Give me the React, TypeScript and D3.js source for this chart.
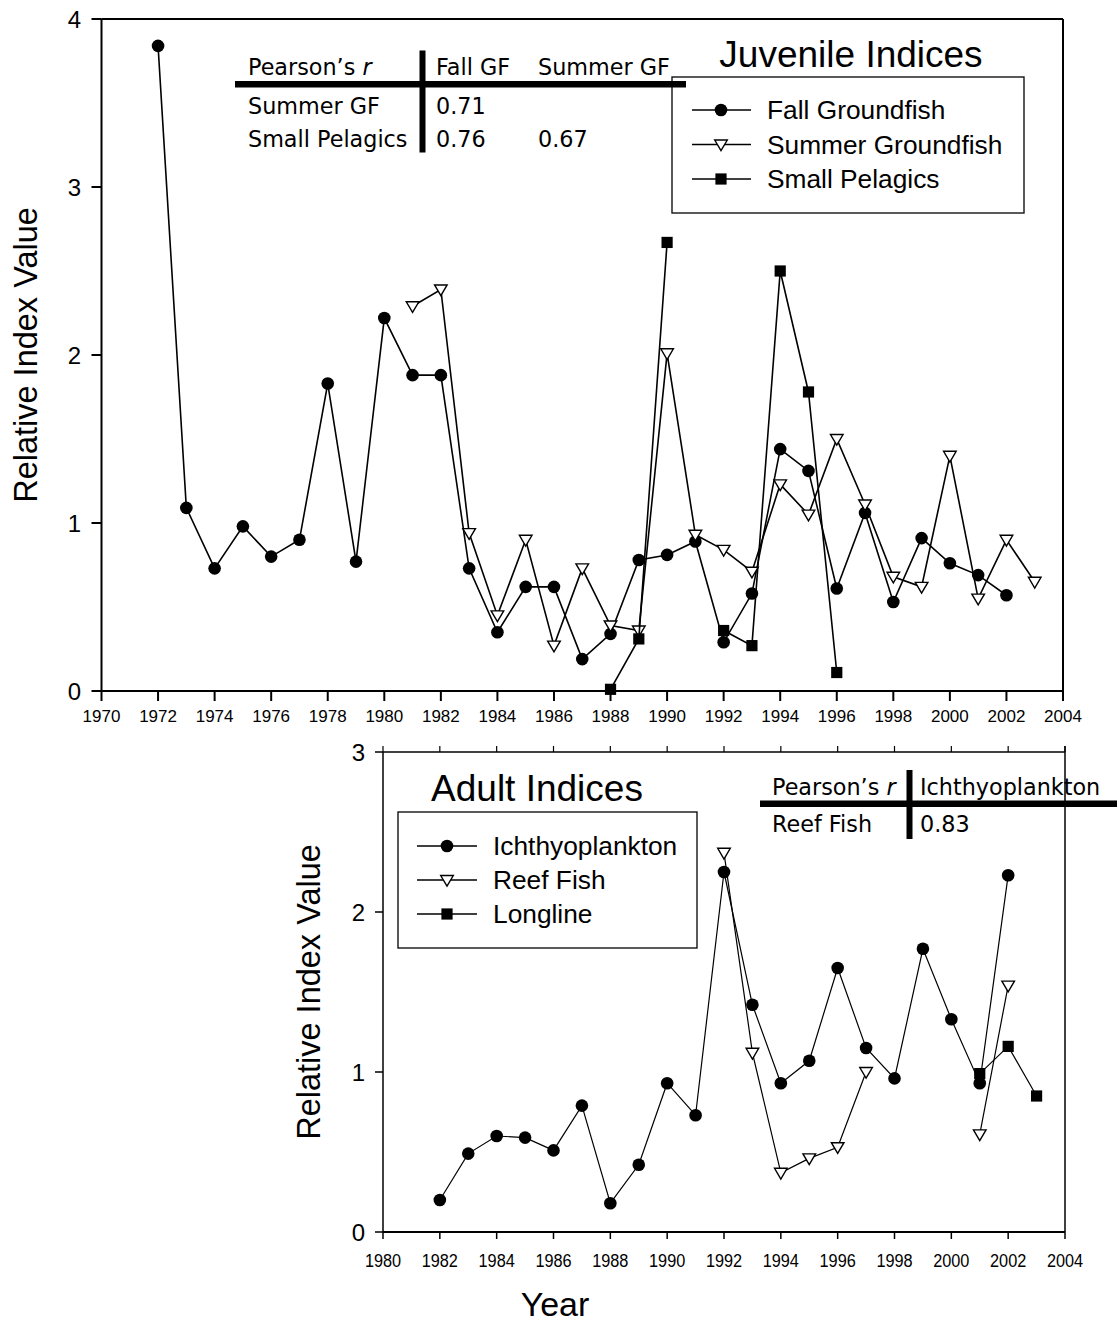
import React from "react";
import * as d3 from "d3";

// ---------- data ----------
const fallYears = [1972,1973,1974,1975,1976,1977,1978,1979,1980,1981,1982,1983,1984,1985,1986,1987,1988,1989,1990,1991,1992,1993,1994,1995,1996,1997,1998,1999,2000,2001,2002];
const fallGF = [3.84,1.09,0.73,0.98,0.80,0.90,1.83,0.77,2.22,1.88,1.88,0.73,0.35,0.62,0.62,0.19,0.34,0.78,0.81,0.89,0.29,0.58,1.44,1.31,0.61,1.06,0.53,0.91,0.76,0.69,0.57];
const summerYears = [1981,1982,1983,1984,1985,1986,1987,1988,1989,1990,1991,1992,1993,1994,1995,1996,1997,1998,1999,2000,2001,2002,2003];
const summerGF = [2.29,2.39,0.94,0.45,0.90,0.27,0.73,0.39,0.36,2.01,0.93,0.84,0.71,1.23,1.05,1.50,1.11,0.68,0.62,1.40,0.55,0.90,0.65];
const pelagicYears = [1988,1989,1990,1991,1992,1993,1994,1995,1996];
const smallPelagics: (number | null)[] = [0.01,0.31,2.67,null,0.36,0.27,2.50,1.78,0.11];

const ichYears = [1982,1983,1984,1985,1986,1987,1988,1989,1990,1991,1992,1993,1994,1995,1996,1997,1998,1999,2000,2001,2002];
const ichthyoplankton = [0.20,0.49,0.60,0.59,0.51,0.79,0.18,0.42,0.93,0.73,2.25,1.42,0.93,1.07,1.65,1.15,0.96,1.77,1.33,0.93,2.23];
const reefYears = [1992,1993,1994,1995,1996,1997,1998,1999,2000,2001,2002];
const reefFish: (number | null)[] = [2.37,1.12,0.37,0.46,0.53,1.00,null,null,null,0.61,1.54];
const longYears = [2001,2002,2003];
const longline = [0.99,1.16,0.85];

const topXTicks = [1970,1972,1974,1976,1978,1980,1982,1984,1986,1988,1990,1992,1994,1996,1998,2000,2002,2004];
const topYTicks = [0,1,2,3,4];
const botXTicks = [1980,1982,1984,1986,1988,1990,1992,1994,1996,1998,2000,2002,2004];
const botYTicks = [0,1,2,3];

const juvLegend = ["Fall Groundfish", "Summer Groundfish", "Small Pelagics"];
const adultLegend = ["Ichthyoplankton", "Reef Fish", "Longline"];
const juvTableCols = ["Fall GF", "Summer GF"];
const juvTableRows = ["Summer GF", "Small Pelagics"];
const juvTableVals = [["0.71", ""], ["0.76", "0.67"]];
const adultTableCols = ["Ichthyoplankton"];
const adultTableRows = ["Reef Fish"];
const adultTableVals = [["0.83"]];

// ---------- helpers ----------
const ARIAL = "'Liberation Sans', Arial, sans-serif";
const TAHOMA = "'DejaVu Sans', Verdana, sans-serif";

type Shape = "circle" | "tri" | "square";

function Marker({ x, y, shape, s = 1 }: { x: number; y: number; shape: Shape; s?: number }) {
  if (shape === "circle") return <circle cx={x} cy={y} r={6.3 * s} fill="#000" />;
  if (shape === "square") return <rect x={x - 5.6 * s} y={y - 5.6 * s} width={11.2 * s} height={11.2 * s} fill="#000" />;
  const w = 6.3 * s;
  return (
    <path
      d={`M${x - w},${y - 4.5 * s}L${x + w},${y - 4.5 * s}L${x},${y + 6.2 * s}Z`}
      fill="#fff"
      stroke="#000"
      strokeWidth={1.4}
    />
  );
}

function Series({
  years, vals, xs, ys, shape, sw,
}: {
  years: number[]; vals: (number | null)[]; xs: d3.ScaleLinear<number, number>; ys: d3.ScaleLinear<number, number>; shape: Shape; sw: number;
}) {
  const pts = years.map((yr, i) => [yr, vals[i]] as [number, number | null]);
  const line = d3
    .line<[number, number | null]>()
    .defined((d) => d[1] !== null)
    .x((d) => xs(d[0]))
    .y((d) => ys(d[1] as number));
  return (
    <g>
      <path d={line(pts) || ""} fill="none" stroke="#000" strokeWidth={sw} />
      {pts.filter((d) => d[1] !== null).map((d, i) => (
        <Marker key={i} x={xs(d[0])} y={ys(d[1] as number)} shape={shape} />
      ))}
    </g>
  );
}

export default function App() {
  // top chart
  const xT = d3.scaleLinear().domain([1970, 2004]).range([101.5, 1063]);
  const yT = d3.scaleLinear().domain([0, 4]).range([691, 19]);
  // bottom chart
  const xB = d3.scaleLinear().domain([1980, 2004]).range([383, 1065]);
  const yB = d3.scaleLinear().domain([0, 3]).range([1232, 752]);

  const shapes: Shape[] = ["circle", "tri", "square"];

  return (
    <svg
      width={1119}
      height={1334}
      style={{ position: "absolute", left: 0, top: 0, background: "#fff" }}
      xmlns="http://www.w3.org/2000/svg"
    >
      <rect x={0} y={0} width={1119} height={1334} fill="#fff" />

      {/* ================= TOP CHART ================= */}
      <g>
        <line x1={xT(1970)} y1={yT(4)} x2={xT(2004)} y2={yT(4)} stroke="#000" strokeWidth={2} />
        <line x1={xT(2004)} y1={yT(4)} x2={xT(2004)} y2={yT(0)} stroke="#000" strokeWidth={2} />
        <line x1={xT(1970)} y1={yT(0)} x2={xT(2004)} y2={yT(0)} stroke="#000" strokeWidth={2} />
        <line x1={xT(1970)} y1={yT(0)} x2={xT(1970)} y2={yT(4)} stroke="#000" strokeWidth={2} />
        {topXTicks.map((t) => (
          <g key={t}>
            <line x1={xT(t)} x2={xT(t)} y1={yT(0)} y2={yT(0) + 10} stroke="#000" strokeWidth={2} />
            <text x={xT(t)} y={yT(0) + 31} textAnchor="middle" fontFamily={ARIAL} fontSize={17}>{t}</text>
          </g>
        ))}
        {topYTicks.map((t) => (
          <g key={t}>
            <line x1={xT(1970) - 10} x2={xT(1970)} y1={yT(t)} y2={yT(t)} stroke="#000" strokeWidth={2} />
            <text x={81} y={yT(t) + 8.5} textAnchor="end" fontFamily={ARIAL} fontSize={24}>{t}</text>
          </g>
        ))}
        <text
          transform={`translate(37,${(yT(0) + yT(4)) / 2}) rotate(-90)`}
          textAnchor="middle"
          fontFamily={ARIAL}
          fontSize={32.5}
        >
          Relative Index Value
        </text>

        <Series years={fallYears} vals={fallGF} xs={xT} ys={yT} shape="circle" sw={1.6} />
        <Series years={summerYears} vals={summerGF} xs={xT} ys={yT} shape="tri" sw={1.6} />
        <Series years={pelagicYears} vals={smallPelagics} xs={xT} ys={yT} shape="square" sw={1.6} />

        {/* legend */}
        <text x={851} y={67} textAnchor="middle" fontFamily={ARIAL} fontSize={37}>Juvenile Indices</text>
        <rect x={672} y={77} width={352} height={136} fill="#fff" stroke="#000" strokeWidth={1.3} />
        {juvLegend.map((lab, i) => {
          const cy = 110 + i * 34.5;
          return (
            <g key={lab}>
              <line x1={692} x2={751} y1={cy} y2={cy} stroke="#000" strokeWidth={1.6} />
              <Marker x={721} y={cy} shape={shapes[i]} />
              <text x={767} y={cy + 9} fontFamily={ARIAL} fontSize={26.3}>{lab}</text>
            </g>
          );
        })}

        {/* correlation table */}
        <g fontFamily={TAHOMA} fontSize={22.3}>
          <text x={248} y={75}>Pearson’s <tspan fontStyle="italic">r</tspan></text>
          {juvTableCols.map((c, j) => (
            <text key={c} x={[436, 538][j]} y={75}>{c}</text>
          ))}
          {juvTableRows.map((r, i) => (
            <g key={r}>
              <text x={248} y={114 + i * 33}>{r}</text>
              {juvTableVals[i].map((v, j) => (
                <text key={j} x={[436, 538][j]} y={114 + i * 33}>{v}</text>
              ))}
            </g>
          ))}
          <rect x={235} y={81} width={451} height={6.5} fill="#000" />
          <rect x={419.5} y={50.5} width={6} height={102} fill="#000" />
        </g>
      </g>

      {/* ================= BOTTOM CHART ================= */}
      <g>
        <line x1={xB(1980)} y1={yB(3)} x2={xB(2004)} y2={yB(3)} stroke="#000" strokeWidth={1.5} />
        <line x1={xB(2004)} y1={yB(3) - 6} x2={xB(2004)} y2={yB(0)} stroke="#000" strokeWidth={1.5} />
        <line x1={xB(1980)} y1={yB(0)} x2={xB(2004)} y2={yB(0)} stroke="#000" strokeWidth={1.8} />
        <line x1={xB(1980)} y1={yB(0)} x2={xB(1980)} y2={yB(3)} stroke="#000" strokeWidth={1.5} />
        {botXTicks.map((t) => (
          <g key={t}>
            <line x1={xB(t)} x2={xB(t)} y1={yB(0)} y2={yB(0) + 7} stroke="#000" strokeWidth={1.5} />
            <line x1={xB(t)} x2={xB(t)} y1={yB(3)} y2={yB(3) - 6} stroke="#000" strokeWidth={1.2} />
            <text
              x={xB(t)}
              y={yB(0) + 35}
              textAnchor="middle"
              fontFamily={ARIAL}
              fontSize={18.5}
              transform={`translate(${xB(t) * 0.12},0) scale(0.88,1)`}
            >
              {t}
            </text>
          </g>
        ))}
        {botYTicks.map((t) => (
          <g key={t}>
            <line x1={xB(1980) - 8} x2={xB(1980)} y1={yB(t)} y2={yB(t)} stroke="#000" strokeWidth={1.5} />
            <text x={365} y={yB(t) + 8.5} textAnchor="end" fontFamily={ARIAL} fontSize={24}>{t}</text>
          </g>
        ))}
        <text
          transform={`translate(320,${(yB(0) + yB(3)) / 2}) rotate(-90)`}
          textAnchor="middle"
          fontFamily={ARIAL}
          fontSize={32.5}
        >
          Relative Index Value
        </text>
        <text x={555} y={1316} textAnchor="middle" fontFamily={ARIAL} fontSize={34}>Year</text>

        <Series years={ichYears} vals={ichthyoplankton} xs={xB} ys={yB} shape="circle" sw={1.2} />
        <Series years={reefYears} vals={reefFish} xs={xB} ys={yB} shape="tri" sw={1.2} />
        <Series years={longYears} vals={longline} xs={xB} ys={yB} shape="square" sw={1.2} />

        {/* legend */}
        <text x={537} y={801} textAnchor="middle" fontFamily={ARIAL} fontSize={37}>Adult Indices</text>
        <rect x={398} y={812} width={299} height={136} fill="#fff" stroke="#000" strokeWidth={1.3} />
        {adultLegend.map((lab, i) => {
          const cy = 846 + i * 34;
          return (
            <g key={lab}>
              <line x1={417} x2={477} y1={cy} y2={cy} stroke="#000" strokeWidth={1.4} />
              <Marker x={447} y={cy} shape={shapes[i]} />
              <text x={493} y={cy + 9} fontFamily={ARIAL} fontSize={26.3}>{lab}</text>
            </g>
          );
        })}

        {/* correlation table */}
        <g fontFamily={TAHOMA} fontSize={22.3}>
          <text x={772} y={795}>Pearson’s <tspan fontStyle="italic">r</tspan></text>
          {adultTableCols.map((c) => (
            <text key={c} x={920} y={795}>{c}</text>
          ))}
          {adultTableRows.map((r, i) => (
            <g key={r}>
              <text x={772} y={832 + i * 33}>{r}</text>
              {adultTableVals[i].map((v, j) => (
                <text key={j} x={920} y={832 + i * 33}>{v}</text>
              ))}
            </g>
          ))}
          <rect x={760} y={800.5} width={357} height={6.5} fill="#000" />
          <rect x={906.5} y={770} width={6} height={69} fill="#000" />
        </g>
      </g>
    </svg>
  );
}
